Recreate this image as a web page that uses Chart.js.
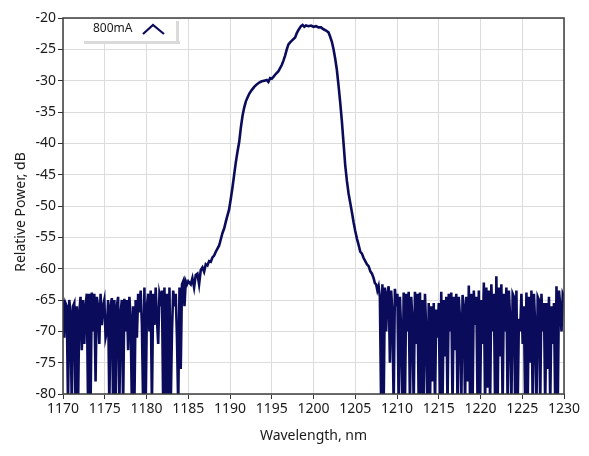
<!DOCTYPE html>
<html>
<head>
<meta charset="utf-8">
<script src="https://cdn.jsdelivr.net/npm/chart.js@4.4.0/dist/chart.umd.min.js"></script>
<style>
  body { margin: 0; background: #fff; }
</style>
</head>
<body>
<canvas id="spectrum" width="589" height="456"></canvas>
<script>
const ctx = document.getElementById('spectrum').getContext('2d');

// noise floor, left side: 1170.00 .. 1185.00 nm, 0.15 nm step
const leftStart = 1170;
const noiseStep = 0.15;
const leftNoise = [
    -65, -71, -65.5, -66, -82, -65, -67, -82, -66, -65.5,
    -82, -66, -82, -67, -64.5, -73, -65, -72, -66, -64,
    -82, -64, -82, -63.8, -70, -64, -78, -64.5, -66, -72,
    -64, -69, -66, -65, -71, -70, -65, -82, -66, -64.7,
    -82, -65, -82, -66, -64.5, -82, -67, -65, -82, -64.8,
    -70, -65, -73, -64.5, -68, -82, -66, -82, -65, -71,
    -64, -67, -63.5, -69, -82, -63, -82, -66, -64, -70,
    -63.5, -82, -64, -69, -63, -68, -72, -64, -65, -63.5,
    -82, -63, -82, -64, -82, -63, -82, -70, -63.5, -66,
    -64, -71, -82, -63, -76, -62.5, -62, -66, -62, -62.5,
    -62
];

// the emission peak, read point by point
const peakWl = [
    1185.3, 1185.5, 1185.7, 1185.9, 1186.1, 1186.3, 1186.5, 1186.7, 1186.9, 1187.1,
    1187.3, 1187.5, 1187.7, 1187.9, 1188.1, 1188.3, 1188.5, 1188.7, 1188.9, 1189.1,
    1189.3, 1189.5, 1189.7, 1189.9, 1190.1, 1190.3, 1190.5, 1190.7, 1190.9, 1191.1,
    1191.3, 1191.5, 1191.7, 1191.9, 1192.1, 1192.3, 1192.6, 1192.9, 1193.2, 1193.5,
    1193.8, 1194.1, 1194.4, 1194.6, 1194.8, 1195.0, 1195.2, 1195.5, 1195.8, 1196.0,
    1196.2, 1196.4, 1196.6, 1196.8, 1197.0, 1197.2, 1197.5, 1197.8, 1198.0, 1198.2,
    1198.5, 1198.7, 1198.9, 1199.1, 1199.4, 1199.7, 1200.0, 1200.3, 1200.6, 1200.9,
    1201.2, 1201.5, 1201.8, 1202.0, 1202.2, 1202.4, 1202.6, 1202.8, 1203.0, 1203.2,
    1203.4, 1203.6, 1203.8, 1204.0, 1204.2, 1204.4, 1204.6, 1204.8, 1205.0, 1205.2,
    1205.4, 1205.6, 1205.8, 1206.0, 1206.2, 1206.4, 1206.6, 1206.8, 1207.0, 1207.2,
    1207.35
];
const peakDb = [
    -62.5, -61.5, -63, -61, -60.8, -62.5, -60.2, -59.8, -60.5, -59.3,
    -59.5, -58.8, -58.9, -58.2, -57.9, -57.3, -56.8, -56.3, -55.3, -54.3,
    -53.6, -52.5, -51.5, -50.5, -48.8, -47, -45, -43, -41.3, -39.8,
    -37.5, -35.6, -34.3, -33.3, -32.7, -32.1, -31.5, -31, -30.6, -30.3,
    -30.1, -30, -29.9, -30.2, -29.6, -29.7, -29.4, -28.9, -28.5, -28,
    -27.5, -26.8, -26, -25, -24.2, -23.9, -23.5, -23.1, -22.4, -21.9,
    -21.3, -21.1, -21.4, -21.2, -21.3, -21.2, -21.4, -21.3, -21.5, -21.5,
    -21.8, -22, -22.3, -23, -23.8, -25, -26.5, -28.3, -30.8, -33.5,
    -36.5, -40, -43.5, -46, -48, -49.5, -51, -52.6, -54, -55.2,
    -56.2, -57.3, -57.6, -58.3, -58.8, -59.3, -59.6, -60.4, -60.8, -61.5,
    -62.3
];

// noise floor, right side: 1207.50 .. 1230.00 nm, 0.15 nm step
const rightStart = 1207.5;
const rightNoise = [
    -62.5, -63.5, -62.8, -64.5, -82, -62.5, -82, -63, -70, -64,
    -62.8, -75, -63.5, -67, -82, -63.2, -66, -64, -82, -64.5,
    -70, -82, -63.8, -82, -64, -70, -63.7, -82, -64.5, -68,
    -82, -63.7, -72, -64, -82, -63.8, -80, -65, -82, -64,
    -70, -82, -65.5, -82, -66, -78, -65.5, -82, -66.5, -71,
    -65.5, -82, -63.7, -82, -65, -74, -64.5, -82, -64, -70,
    -63.8, -82, -64.5, -73, -64, -82, -64.5, -68, -82, -64.2,
    -66, -82, -64.5, -78, -62.7, -82, -64, -82, -63.5, -69,
    -64.5, -82, -63.5, -82, -65, -72, -62.2, -82, -63, -79,
    -63.5, -82, -62.5, -70, -64, -82, -61.2, -82, -63, -74,
    -62.5, -82, -64, -70, -63, -82, -63.5, -68, -82, -64,
    -64.5, -82, -63.5, -82, -68, -70, -64, -72, -66, -82,
    -63.8, -82, -64.5, -75, -63.5, -82, -64, -69, -82, -64.5,
    -65, -82, -64, -70, -65.5, -82, -65.5, -76, -64.5, -82,
    -66, -72, -65.5, -82, -62.8, -82, -63.5, -66, -70, -64,
    -64.5
];

const seriesName = '800mA';
const yTitle = 'Relative Power, dB';
const lineColor = '#0b0b5c';

const points = [];
leftNoise.forEach((v, i) => points.push({ x: +(leftStart + i * noiseStep).toFixed(2), y: v }));
peakWl.forEach((w, i) => points.push({ x: w, y: peakDb[i] }));
rightNoise.forEach((v, i) => points.push({ x: +(rightStart + i * noiseStep).toFixed(2), y: v }));

const frame = {
    id: 'frame',
    afterDraw(chart) {
        const c = chart.ctx;
        const a = chart.chartArea;
        c.save();
        c.strokeStyle = '#3c3c3c';
        c.lineWidth = 1.5;
        c.strokeRect(a.left, a.top, a.right - a.left, a.bottom - a.top);

        // y axis title, sits a little below the middle in the original
        c.save();
        c.translate(21, 212);
        c.rotate(-Math.PI / 2);
        c.fillStyle = '#1a1a1a';
        c.font = '14px "Noto Sans"';
        c.textAlign = 'center';
        c.textBaseline = 'middle';
        c.fillText(yTitle, 0, 0);
        c.restore();

        // legend box in the upper left corner
        const bx = 80, by = 18, bw = 96, bh = 23;
        c.fillStyle = '#dadada';
        c.fillRect(bx + 4, by + bh, bw, 3);
        c.fillRect(bx + bw, by + 3, 3, bh);
        c.fillStyle = '#fff';
        c.fillRect(bx, by + 1, bw, bh - 1);
        c.fillStyle = '#1a1a1a';
        c.font = '12px "Noto Sans"';
        c.textBaseline = 'middle';
        c.fillText(seriesName, bx + 13, by + 11);
        c.strokeStyle = lineColor;
        c.lineWidth = 2.2;
        c.beginPath();
        c.moveTo(bx + 63, by + 16);
        c.lineTo(bx + 73, by + 7);
        c.lineTo(bx + 84, by + 16);
        c.stroke();
        c.restore();
    }
};

const myChart = new Chart(ctx, {
    type: 'line',
    data: {
        datasets: [{
            label: seriesName,
            data: points,
            borderColor: lineColor,
            borderWidth: 2.6,
            pointRadius: 0,
            tension: 0,
            fill: false
        }]
    },
    options: {
        responsive: false,
        animation: false,
        layout: {
            padding: { top: 18, right: 25, left: 0, bottom: 0 }
        },
        scales: {
            x: {
                type: 'linear',
                min: 1170,
                max: 1230,
                afterFit: function(scale) { scale.height = 62; },
                grid: {
                    color: '#dcdcdc',
                    tickColor: '#333',
                    tickLength: 5
                },
                border: { display: false },
                ticks: {
                    stepSize: 5,
                    color: '#1a1a1a',
                    padding: 2,
                    maxRotation: 0,
                    font: { family: 'Noto Sans', size: 14 },
                    callback: function(v) { return String(v); }
                },
                title: {
                    display: true,
                    text: 'Wavelength, nm',
                    color: '#1a1a1a',
                    padding: { top: 4, bottom: 12 },
                    font: { family: 'Noto Sans', size: 14 }
                }
            },
            y: {
                min: -80,
                max: -20,
                afterFit: function(scale) { scale.width = 63; },
                grid: {
                    color: '#dcdcdc',
                    tickColor: '#333',
                    tickLength: 5
                },
                border: { display: false },
                ticks: {
                    stepSize: 5,
                    color: '#1a1a1a',
                    padding: 2,
                    font: { family: 'Noto Sans', size: 14 }
                }
            }
        },
        plugins: {
            legend: { display: false },
            tooltip: { enabled: false }
        }
    },
    plugins: [frame]
});
</script>
</body>
</html>
